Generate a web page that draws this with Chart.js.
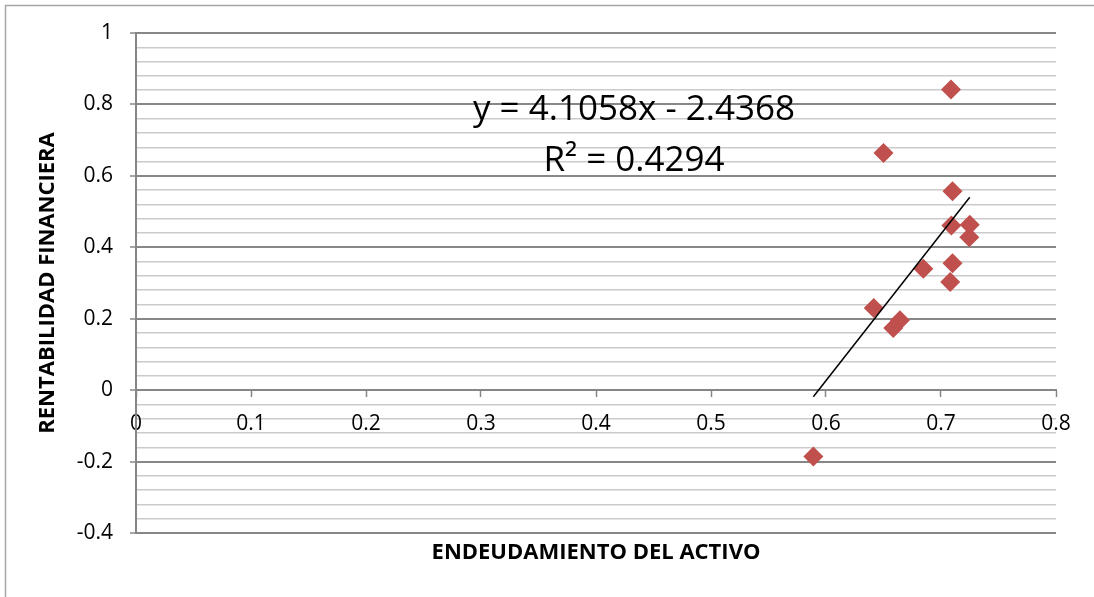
<!DOCTYPE html>
<html>
<head>
<meta charset="utf-8">
<script src="https://cdn.jsdelivr.net/npm/chart.js@4.4.1/dist/chart.umd.min.js"></script>
<style>
  html, body { margin: 0; padding: 0; background: #ffffff; }
  #wrap { position: relative; width: 1094px; height: 597px; }
  canvas { display: block; }
</style>
</head>
<body>
<div id="wrap"><canvas id="c" width="1094" height="597"></canvas></div>
<script>
// Endeudamiento del activo (x) vs. rentabilidad financiera (y)
const endeudamiento = [0.7087, 0.650, 0.710, 0.709, 0.725, 0.7246, 0.6846, 0.710, 0.708, 0.6415, 0.6643, 0.6585, 0.589];
const rentabilidad  = [0.842, 0.664, 0.557, 0.461, 0.463, 0.428, 0.340, 0.355, 0.3025, 0.2297, 0.196, 0.1737, -0.1857];

// Linear trend line (least squares) as reported on the chart
const pendiente = 4.1058;
const intercepto = -2.4368;
const r2 = 0.4294;

const xTicks = [0, 0.1, 0.2, 0.3, 0.4, 0.5, 0.6, 0.7, 0.8];
const yTicks = [-0.4, -0.2, 0, 0.2, 0.4, 0.6, 0.8, 1];

const FONT = "'Open Sans', 'Liberation Sans', sans-serif";

const puntos = endeudamiento.map((x, i) => ({ x: x, y: rentabilidad[i] }));
const xMin = Math.min(...endeudamiento);
const xMax = Math.max(...endeudamiento);
const tendencia = [xMin, xMax].map(x => ({ x: x, y: pendiente * x + intercepto }));

const isMajor = v => yTicks.some(t => Math.abs(t - v) < 1e-6);

// Equation, axis titles and outer frame
const decor = {
  id: 'decor',
  beforeDraw(chart) {
    const ctx = chart.ctx;
    ctx.save();
    ctx.strokeStyle = '#a6a6a6';
    ctx.lineWidth = 1.5;
    ctx.strokeRect(5.5, 5.5, 1200, 700);
    ctx.restore();
  },
  afterDraw(chart) {
    const ctx = chart.ctx;
    const a = chart.chartArea;
    ctx.save();
    ctx.fillStyle = '#000000';
    ctx.textAlign = 'center';
    ctx.textBaseline = 'alphabetic';
    ctx.font = "35px " + FONT;
    const fmt = v => v.toFixed(4);
    ctx.fillText('y = ' + fmt(pendiente) + 'x - ' + fmt(Math.abs(intercepto)), 634, 120);
    ctx.fillText('R\u00B2 = ' + fmt(r2), 634, 171);

    ctx.font = "bold 22px " + FONT;
    ctx.textBaseline = 'middle';
    ctx.fillText('ENDEUDAMIENTO DEL ACTIVO', (a.left + a.right) / 2, 553);
    ctx.translate(48, (a.top + a.bottom) / 2);
    ctx.rotate(-Math.PI / 2);
    ctx.fillText('RENTABILIDAD FINANCIERA', 0, 0);
    ctx.restore();
  }
};

new Chart(document.getElementById('c'), {
  type: 'scatter',
  data: {
    datasets: [
      {
        type: 'scatter',
        data: puntos,
        pointStyle: 'rectRot',
        pointRadius: 10,
        pointHoverRadius: 10,
        backgroundColor: '#C0504D',
        borderColor: '#C0504D',
        borderWidth: 0,
        order: 2
      },
      {
        type: 'line',
        data: tendencia,
        borderColor: '#000000',
        borderWidth: 1.5,
        pointRadius: 0,
        fill: false,
        order: 1
      }
    ]
  },
  options: {
    responsive: false,
    animation: false,
    events: [],
    layout: { padding: { left: 6, top: 33, right: 38, bottom: 64 } },
    plugins: { legend: { display: false }, tooltip: { enabled: false } },
    scales: {
      x: {
        type: 'linear',
        position: { y: 0 },
        min: 0,
        max: 0.8,
        afterBuildTicks: s => { s.ticks = xTicks.map(v => ({ value: v })); },
        ticks: {
          color: '#000000',
          font: { family: FONT, size: 21 },
          padding: 15,
          maxRotation: 0,
          callback: v => String(parseFloat(v.toFixed(2)))
        },
        grid: { drawOnChartArea: false, drawTicks: true, tickLength: 6, tickColor: '#868686', tickWidth: 1.5 },
        border: { color: '#868686', width: 2 }
      },
      y: {
        type: 'linear',
        min: -0.4,
        max: 1,
        afterBuildTicks: s => {
          const t = [];
          for (let i = 0; i <= 35; i++) t.push({ value: Math.round((-0.4 + i * 0.04) * 100) / 100 });
          s.ticks = t;
        },
        afterFit: s => { s.width = 130; },
        ticks: {
          color: '#000000',
          font: { family: FONT, size: 21 },
          padding: 17,
          autoSkip: false,
          callback: v => isMajor(v) ? String(parseFloat(v.toFixed(2))) : ''
        },
        grid: {
          color: c => isMajor(c.tick.value) ? '#878787' : '#cbcbcb',
          lineWidth: c => isMajor(c.tick.value) ? 2 : 1.5,
          tickLength: 6,
          tickColor: c => isMajor(c.tick.value) ? '#878787' : 'rgba(0,0,0,0)',
          tickWidth: 1.5
        },
        border: { color: '#868686', width: 2 }
      }
    }
  },
  plugins: [decor]
});
</script>
</body>
</html>
